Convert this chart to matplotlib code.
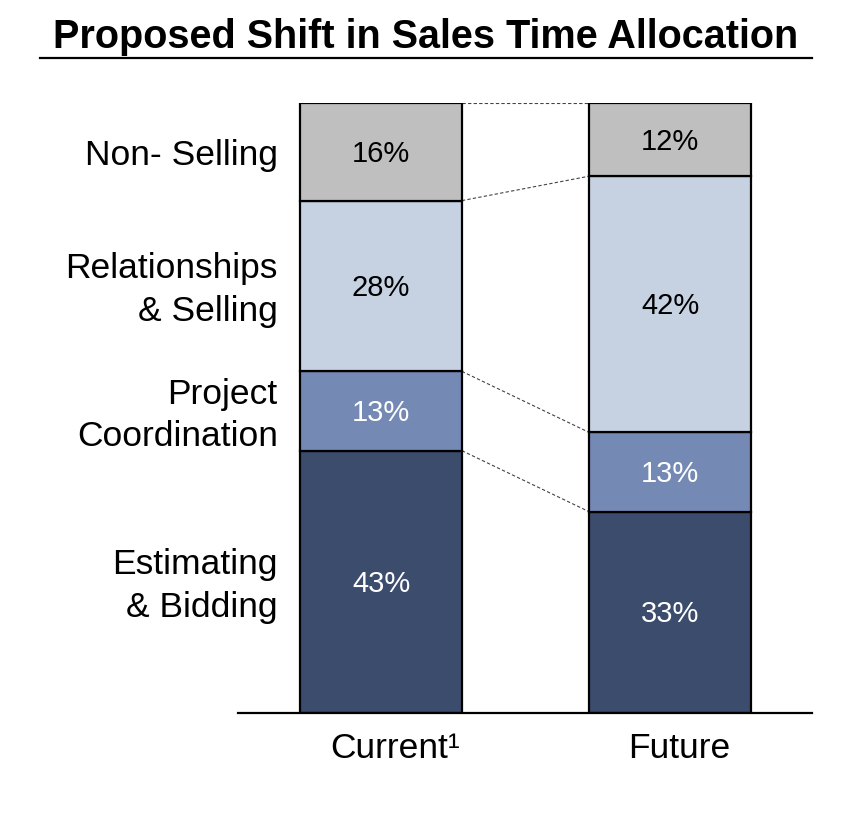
import numpy as np
import matplotlib
matplotlib.use("Agg")
import matplotlib.pyplot as plt
from matplotlib.lines import Line2D

plt.rcParams["font.family"] = ["Liberation Sans", "DejaVu Sans"]

# --- data ---
scenarios = ["Current\u00b9", "Future"]
categories = ["Estimating\n& Bidding", "Project\nCoordination",
              "Relationships\n& Selling", "Non- Selling"]
current = [43, 13, 28, 16]
future = [33, 13, 42, 12]

fill_colors = ["#3c4c6d", "#7489b4", "#c6d2e2", "#bfbfbf"]
text_colors = ["white", "white", "black", "black"]

fig = plt.figure(figsize=(8.68, 8.18), dpi=100)
ax = fig.add_axes([238 / 868, 1 - 713 / 818, 574 / 868, 610 / 818])

x = np.arange(len(scenarios))
width = 0.56
values = np.array([current, future])

bottoms = np.zeros(len(scenarios))
for i in range(len(categories)):
    seg = values[:, i]
    ax.bar(x, seg, width, bottom=bottoms, color=fill_colors[i],
           edgecolor="black", linewidth=1.6, zorder=2)
    for j in range(len(scenarios)):
        ax.annotate(f"{seg[j]}%", (x[j], bottoms[j] + seg[j] / 2),
                    xytext=(0, -1.5), textcoords="offset points",
                    ha="center", va="center", fontsize=21,
                    color=text_colors[i], zorder=3)
    # category label left of the current bar
    ax.annotate(categories[i], (x[0] - width / 2, bottoms[0] + seg[0] / 2),
                xytext=(-16, -3), textcoords="offset points",
                ha="right", va="center", fontsize=25.5, linespacing=1.36)
    bottoms = bottoms + seg
    # connector between bars
    top_cur = np.sum(current[: i + 1])
    top_fut = np.sum(future[: i + 1])
    ax.plot([x[0] + width / 2, x[1] - width / 2], [top_cur, top_fut],
            color="#444444", linestyle=(0, (3, 2)), linewidth=0.8, zorder=1)

# scenario labels under the bars
label_shift = [10, 7]
for j in range(len(scenarios)):
    ax.annotate(scenarios[j], (x[j], 0), xytext=(label_shift[j], -14),
                textcoords="offset points", ha="center", va="top",
                fontsize=25.5, annotation_clip=False)

ax.set_xlim(-0.4948, 1.4913)
ax.set_ylim(0, 100)
ax.set_xticks([])
ax.set_yticks([])
for side in ["left", "right", "top"]:
    ax.spines[side].set_visible(False)
ax.spines["bottom"].set_linewidth(1.6)
ax.patch.set_visible(False)

fig.text(426 / 868, 1 - 37 / 818, "Proposed Shift in Sales Time Allocation",
         ha="center", va="center", fontsize=28.5, fontweight="bold")
fig.add_artist(Line2D([40 / 868, 812 / 868], [1 - 58 / 818, 1 - 58 / 818],
                      color="black", linewidth=1.6))

fig.savefig("out.png", dpi=100)
